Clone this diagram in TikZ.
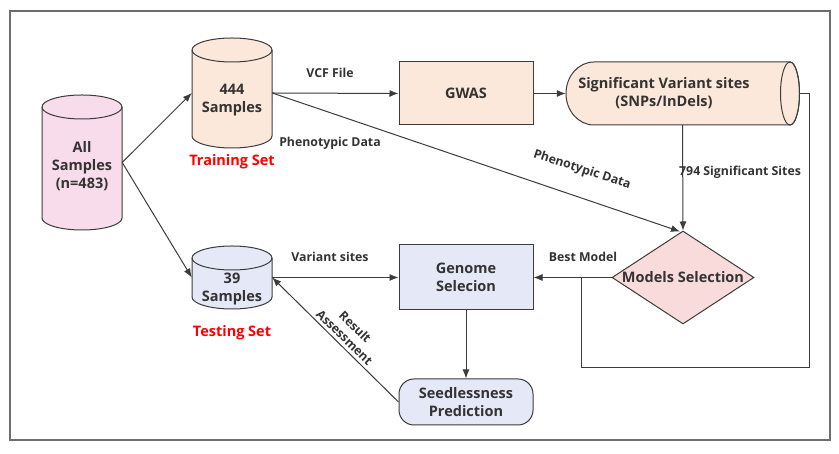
\documentclass[tikz,border=0pt]{standalone}
\usepackage{fontspec}
\setmainfont{Open Sans}
\usetikzlibrary{arrows.meta,shapes.geometric,calc}
\definecolor{txt}{HTML}{333333}
\definecolor{linec}{HTML}{3C3C3C}
\definecolor{framec}{HTML}{6E6E6E}
\definecolor{pinkf}{HTML}{F8DCEB}
\definecolor{peachf}{HTML}{FCE8DA}
\definecolor{lavf}{HTML}{E5E8F7}
\definecolor{diaf}{HTML}{F9DBDB}
\newcommand\mycyl[4]{% cx, top Y, bottom Y, fill
  \filldraw[shp, fill=#4] ({#1-40},{#2-12}) -- ({#1-40},{#3+12})
    arc[start angle=180, end angle=360, x radius=40pt, y radius=12pt]
    -- ({#1+40},{#2-12})
    arc[start angle=0, end angle=180, x radius=40pt, y radius=12pt] -- cycle;
  \draw[shp] ({#1-40},{#2-12}) arc[start angle=180, end angle=360, x radius=40pt, y radius=12pt];
}
\begin{document}
\begin{tikzpicture}[x=1pt, y=1pt,
  font=\bfseries\fontsize{14.5}{18}\selectfont, text=txt,
  shp/.style={draw=linec, line width=1pt},
  lbl/.style={font=\bfseries\fontsize{12.3}{15}\selectfont, text=txt, inner sep=0pt},
  red/.style={font=\bfseries\fontsize{14.5}{18}\selectfont, text=red, inner sep=0pt},
  mtext/.style={align=center, inner sep=0pt},
  ghost/.style={rectangle, inner sep=0pt, draw=none},
  arr/.style={draw=linec, line width=1pt, -{Latex[length=9pt,width=7pt]}},
  ln/.style={draw=linec, line width=1pt}]

\fill[white] (0,0) rectangle (839,454);
\useasboundingbox (0,0) rectangle (839,454);
\draw[framec, line width=1.5pt] (10,14) rectangle (830,443);

% cylinders
\mycyl{82}{359}{224}{pinkf}
\node[ghost, minimum width=80pt, minimum height=135pt] (all) at (82,291.5) {};
\node[mtext] (allT) at (82,288) {All\\Samples\\(n=483)};

\mycyl{232}{416}{306}{peachf}
\node[ghost, minimum width=80pt, minimum height=110pt] (c444) at (232,361) {};
\node[mtext] (c444T) at (232,354) {444\\Samples};
\node[red] (train) at (232,292) {Training Set};

\mycyl{232}{208}{145}{lavf}
\node[ghost, minimum width=80pt, minimum height=63pt] (c39) at (232,176.5) {};
\node[mtext] (c39T) at (232,165.5) {39\\Samples};
\node[red] (test) at (232,121) {Testing Set};

% GWAS
\node[shp, fill=peachf, minimum width=134pt, minimum height=63pt] (gwas) at (466,360.5) {GWAS};

% significant variant sites (horizontal cylinder)
\filldraw[shp, fill=peachf] (790,392) -- (594,392)
  arc[start angle=90, end angle=270, x radius=28pt, y radius=31.5pt]
  -- (790,329)
  arc[start angle=-90, end angle=90, x radius=9.5pt, y radius=31.5pt] -- cycle;
\draw[shp] (790,360.5) ellipse [x radius=9.5pt, y radius=31.5pt];
\node[ghost, minimum width=233pt, minimum height=63pt] (sig) at (682.5,360.5) {};
\node[mtext] (sigT) at (664,361) {Significant Variant sites\\(SNPs/InDels)};

% diamond
\node[diamond, shp, fill=diaf, minimum width=142pt, minimum height=93pt, inner sep=0pt] (dia) at (683,176.5) {};
\node[mtext] (diaT) at (683,176.5) {Models Selection};

% genome selection
\node[shp, fill=lavf, minimum width=134pt, minimum height=65pt, mtext] (gen) at (466,176.5) {Genome\\Selecion};

% seedlessness
\node[shp, fill=lavf, rounded corners=15pt, minimum width=134pt, minimum height=46pt, mtext] (seed) at (466,52) {Seedlessness\\Prediction};

% connectors
\draw[arr] (all.east) -- (c444.west);
\draw[arr] (all.east) -- (c39.west);
\draw[arr] (c444.east) -- (gwas.west);
\draw[arr] (gwas.east) -- (sig.west);
\draw[arr] (sig.south) -- (dia.north);
\coordinate (phend) at ($(dia.north)+(-3,-1)$);
\draw[arr] (c444.east) -- (phend);
\draw[arr] (dia.west) -- (gen.east);
\coordinate (loopR) at (809,86);
\coordinate (loopL) at (581,86);
\draw[ln] (sig.east) -| (loopR) -- (loopL) -- (loopL |- dia.west);
\draw[arr] (gen.south) -- (seed.north);
\draw[arr] (seed.west) -- (c39.east);
\draw[arr] (c39.east) -- (gen.west);

% labels
\node[lbl] (lvcf) at (330,381) {VCF File};
\node[lbl] (lphen1) at (330,311) {Phenotypic Data};
\node[lbl, rotate=-18] (lphen2) at (582,284) {Phenotypic Data};
\node[lbl, anchor=west] (l794) at (679,282) {794 Significant Sites};
\node[lbl] (lbest) at (583,197) {Best Model};
\node[lbl] (lvar) at (330,197) {Variant sites};
\node[lbl, align=center, rotate=-44.5] (lres) at (350,122) {Result\\Assessment};
\end{tikzpicture}
\end{document}
